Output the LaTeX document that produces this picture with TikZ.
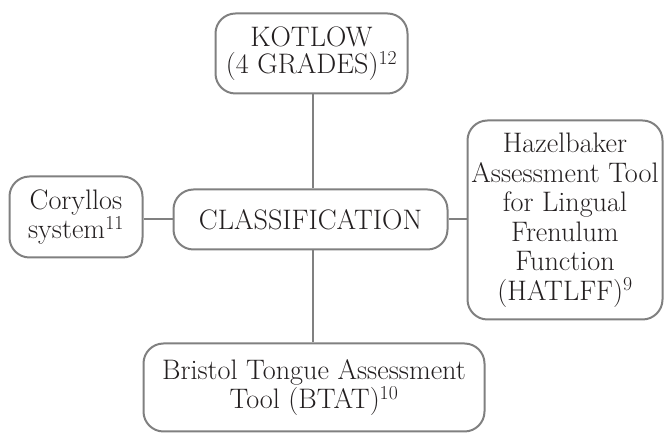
\documentclass[tikz,border=0pt]{standalone}
\usepackage{fontspec}
\definecolor{boxgray}{HTML}{808080}
\definecolor{txt}{HTML}{231F20}
\begin{document}
\begin{tikzpicture}[x=1pt,y=1pt,
  box/.style={draw=boxgray, line width=2pt, rounded corners=20pt, align=center,
    inner sep=0pt, text=txt, font=\fontsize{28.2}{27.5}\selectfont},
  conn/.style={draw=boxgray, line width=2pt}]
\useasboundingbox (0,0) rectangle (665,433);
% y = 433 - ypx
\node[box, minimum width=192pt, minimum height=80pt] (K) at (311.5,379.5)
  {KOTLOW\\(4 GRADES)\textsuperscript{12}};
\node[box, minimum width=274pt, minimum height=60pt] (C) at (310.5,213.5)
  {CLASSIFICATION};
\node[box, minimum width=133pt, minimum height=81pt] (Co) at (76,216)
  {Coryllos\\system\textsuperscript{11}};
\node[box, minimum width=195pt, minimum height=199pt, font=\fontsize{28.2}{29.5}\selectfont] (H) at (565,213)
  {Hazelbaker\\Assessment Tool\\for Lingual\\Frenulum\\Function\\(HATLFF)\textsuperscript{9}};
\node[box, minimum width=341pt, minimum height=88pt] (B) at (314,45.5)
  {Bristol Tongue Assessment\\Tool (BTAT)\textsuperscript{10}};
\draw[conn] (C.north -| 313,0) -- (K.south -| 313,0);
\draw[conn] (C.south -| 313,0) -- (B.north -| 313,0);
\draw[conn] (C.west) -- (C.west -| Co.east);
\draw[conn] (C.east) -- (C.east -| H.west);
\end{tikzpicture}
\end{document}
